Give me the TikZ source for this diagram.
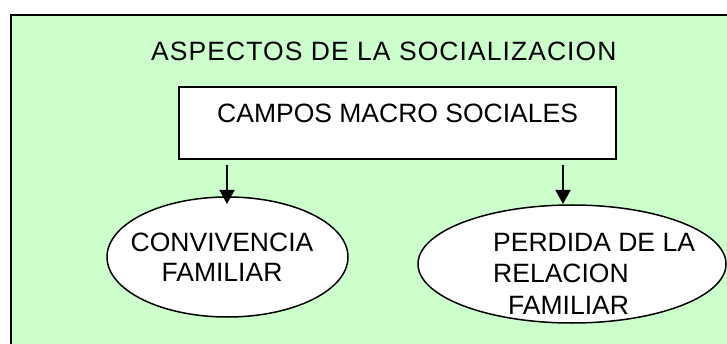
\documentclass[tikz,border=0pt]{standalone}
\usepackage{fontspec}
\setmainfont{Liberation Sans}
\usetikzlibrary{shapes.geometric,arrows.meta}
\definecolor{bggreen}{HTML}{CCFFCC}
\tikzset{
  lbl/.style={font=\fontsize{26.5}{31.5}\selectfont, inner sep=0pt},
  macrobox/.style={draw=black, line width=2pt, fill=white, inner sep=0pt},
  oval/.style={ellipse, draw=black, line width=1.5pt, fill=white, inner sep=0pt},
  arr/.style={line width=1.5pt, -{Triangle[width=15pt,length=14pt]}}
}
\begin{document}
\begin{tikzpicture}[x=1pt,y=-1pt]
\useasboundingbox (0,0) rectangle (727,344);
\fill[white] (0,0) rectangle (727,344);
\fill[bggreen] (11,15) rectangle (730,350);
\draw[line width=2pt] (11,350) -- (11,15) -- (730,15);
\node[lbl, anchor=base west] (title) at (151,61) {\addfontfeature{LetterSpace=4}ASPECTOS DE LA SOCIALIZACION};
\node[macrobox, minimum width=437pt, minimum height=72pt] (box) at (397.5,123) {};
\node[lbl, anchor=base west] (boxtext) at (217,123) {CAMPOS MACRO SOCIALES};
\node[oval, minimum width=241pt, minimum height=120pt] (e1) at (227.5,257) {};
\node[lbl, align=center, anchor=base, font=\fontsize{26.5}{30}\selectfont] (t1) at (222,281) {CONVIVENCIA\\FAMILIAR};
\node[oval, minimum width=308pt, minimum height=118pt] (e2) at (572,264) {};
\node[lbl, align=left, anchor=base west] (t2) at (493,314) {PERDIDA DE LA\\RELACION\\\hspace*{15pt}FAMILIAR};
\coordinate (a1) at (227,165);
\coordinate (a2) at (563,165);
\draw[arr] (a1) -- (227,204);
\draw[arr] (a2) -- (563,204);
\end{tikzpicture}
\end{document}
